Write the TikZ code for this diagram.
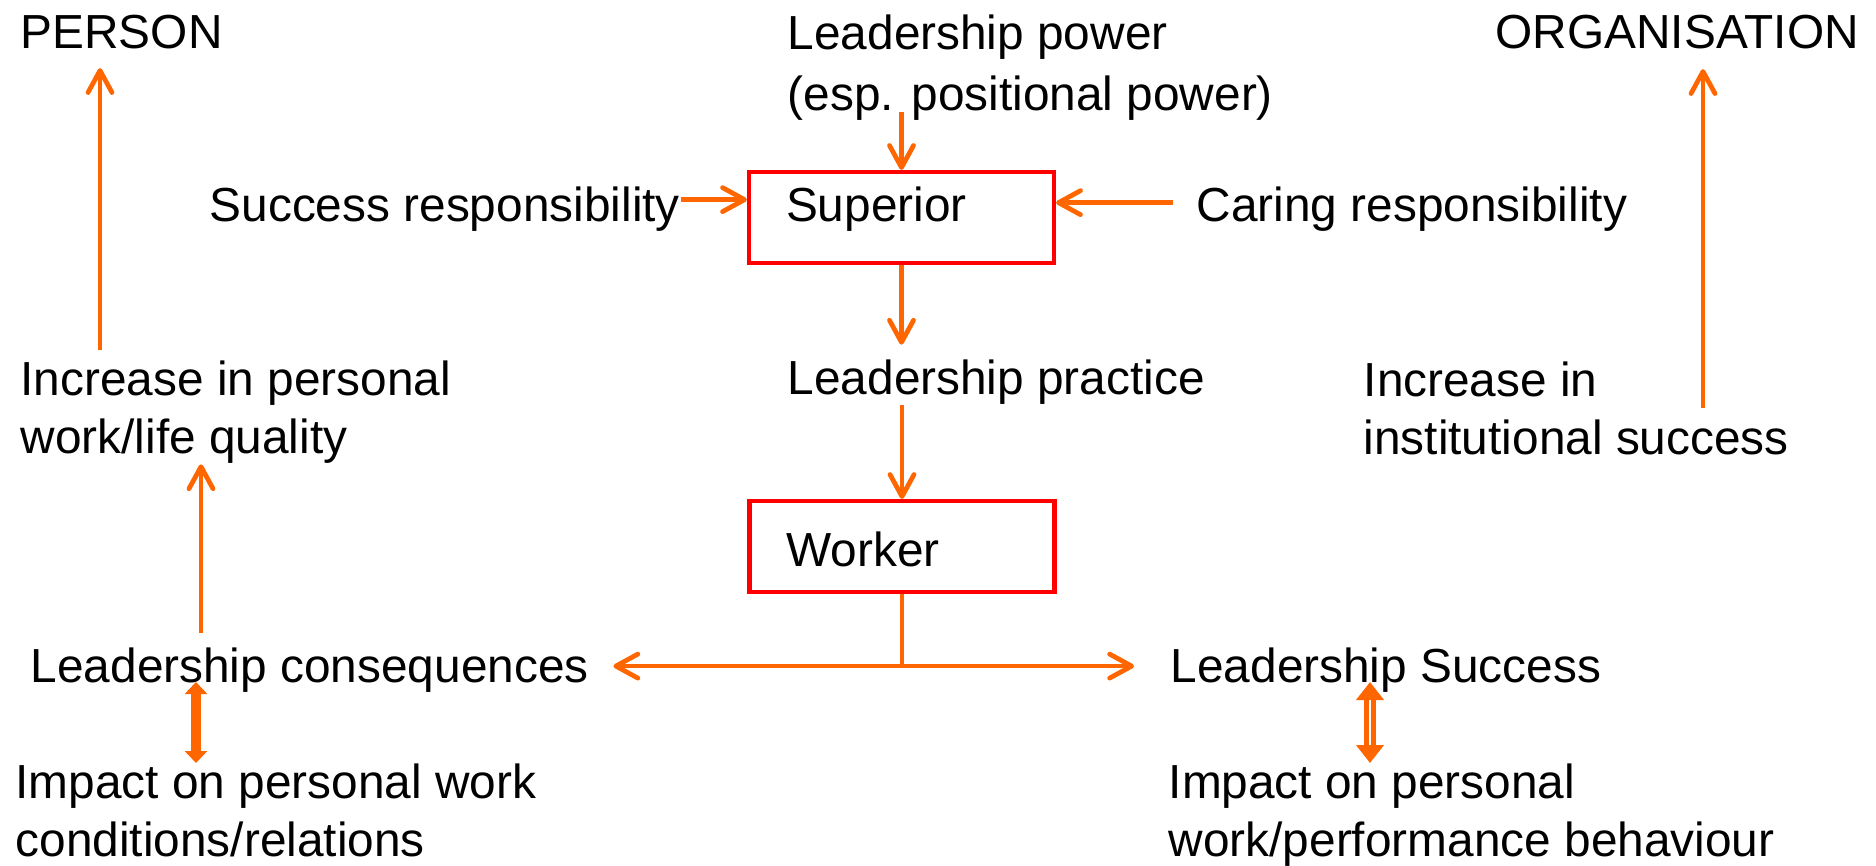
\documentclass[tikz,border=0pt]{standalone}
\usepackage{fontspec}
\setmainfont{Liberation Sans}
\usetikzlibrary{arrows.meta}
\definecolor{naranja}{HTML}{FF6600}
\definecolor{rojo}{HTML}{FF0000}

\begin{document}
\begin{tikzpicture}[
        txt/.style={inner sep=0pt, font=\fontsize{13.6}{16.6}\selectfont},
        multi/.style={txt, anchor=north west, align=left},
        caja/.style={txt, draw=rojo, line width=1.2pt, minimum height=0.91cm, text width=2.31cm,
                     inner xsep=0.37cm, align=left, text height=0.35cm, text depth=0.27cm},
        flecha/.style={draw=naranja, line width=1.35pt, -{Straight Barb[length=2.2mm, width=2.4mm, round]}},
        linea/.style={draw=naranja, line width=1.35pt},
        dobleA/.style={draw=naranja, line width=3.1pt,
                       {Triangle[length=1.2mm, width=2.2mm]}-{Triangle[length=1.2mm, width=2.2mm]}},
        dobleB/.style={draw=naranja, line width=1.2pt, double=white, double distance=0.8pt,
                       {Triangle[length=1.8mm, width=2.7mm]}-{Triangle[length=1.8mm, width=2.7mm]}}]
      % 1 unidad = 100 px de la imagen original
      \useasboundingbox (0,0) rectangle (18.76,8.65);
      \def\basesup{8.17}
      % Extremos superiores
      \node[txt, anchor=base west] (person) at (0.20,\basesup) {PERSON};
      \node[txt, anchor=base west] (org) at (14.95,\basesup) {ORGANISATION};
      \node[multi] (pow) at (7.87,8.51) {Leadership power\\[0.03cm](esp. positional power)};
      % Superior y responsabilidades
      \node[caja] (sup) at (9.015,6.475) {Superior};
      \node[txt, anchor=base west] (sucresp) at (2.09,6.44) {Success responsibility};
      \node[txt, anchor=base west] (carresp) at (11.96,6.44) {Caring responsibility};
      % Practica y trabajador
      \node[txt, anchor=base west] (prac) at (7.87,4.71) {Leadership practice};
      \node[caja, text height=0.505cm, text depth=0.115cm] (wrk) at (9.02,3.185) {Worker};
      % Resultados intermedios
      \node[multi] (incP) at (0.20,5.05) {Increase in personal\\work/life quality};
      \node[multi] (incI) at (13.63,5.04) {Increase in\\institutional success};
      \node[txt, anchor=base west] (cons) at (0.30,1.83) {Leadership consequences};
      \node[txt, anchor=base west] (lsucc) at (11.70,1.83) {Leadership Success};
      \node[multi] (impP) at (0.15,1.02) {Impact on personal work\\conditions/relations};
      \node[multi] (impB) at (11.68,1.02) {Impact on personal\\work/performance behaviour};
      % Abscisas de las flechas que no salen del centro
      \coordinate (xP) at (2.01,0);
      \coordinate (xPer) at (1.00,0);
      \coordinate (xD1) at (1.96,0);
      \coordinate (xD2) at (13.70,0);
      \coordinate (incItop) at (17.03,4.57);
      % Flechas hacia el superior
      \draw[flecha] ([yshift=0.9mm]pow.south -| sup.north) -- (sup.north);
      \draw[flecha] ([yshift=0.9mm]sucresp.east) -- ([yshift=0.9mm]sucresp.east -| sup.west);
      \draw[flecha] ([xshift=-2.3mm,yshift=0.6mm]carresp.west) -- ([yshift=0.6mm]carresp.west -| sup.east);
      % Cadena central
      \draw[flecha, shorten >=1.4mm] (sup.south) -- (sup.south |- prac.north);
      \draw[flecha] (prac.south -| wrk.north) -- (wrk.north);
      \path (wrk.south) ++(0,-0.72) coordinate (split);
      \draw[linea] (wrk.south) -- (split);
      \draw[flecha, shorten >=2.4mm] (split) -- (split -| cons.east);
      \draw[flecha, shorten >=3.6mm] (split) -- (split -| lsucc.west);
      % Flechas verticales laterales
      \draw[flecha, shorten <=1.4mm] (cons.north -| xP) -- (incP.south -| xP);
      \draw[flecha, shorten <=1mm, shorten >=1.9mm] (incP.north -| xPer) -- (person.south -| xPer);
      \draw[flecha, shorten >=2mm] (incItop) -- (incItop |- org.south);
      % Flechas dobles
      \draw[dobleA] (cons.base -| xD1) -- (impP.north -| xD1);
      \draw[dobleB] (lsucc.base -| xD2) -- (impB.north -| xD2);
    \end{tikzpicture}
\end{document}
